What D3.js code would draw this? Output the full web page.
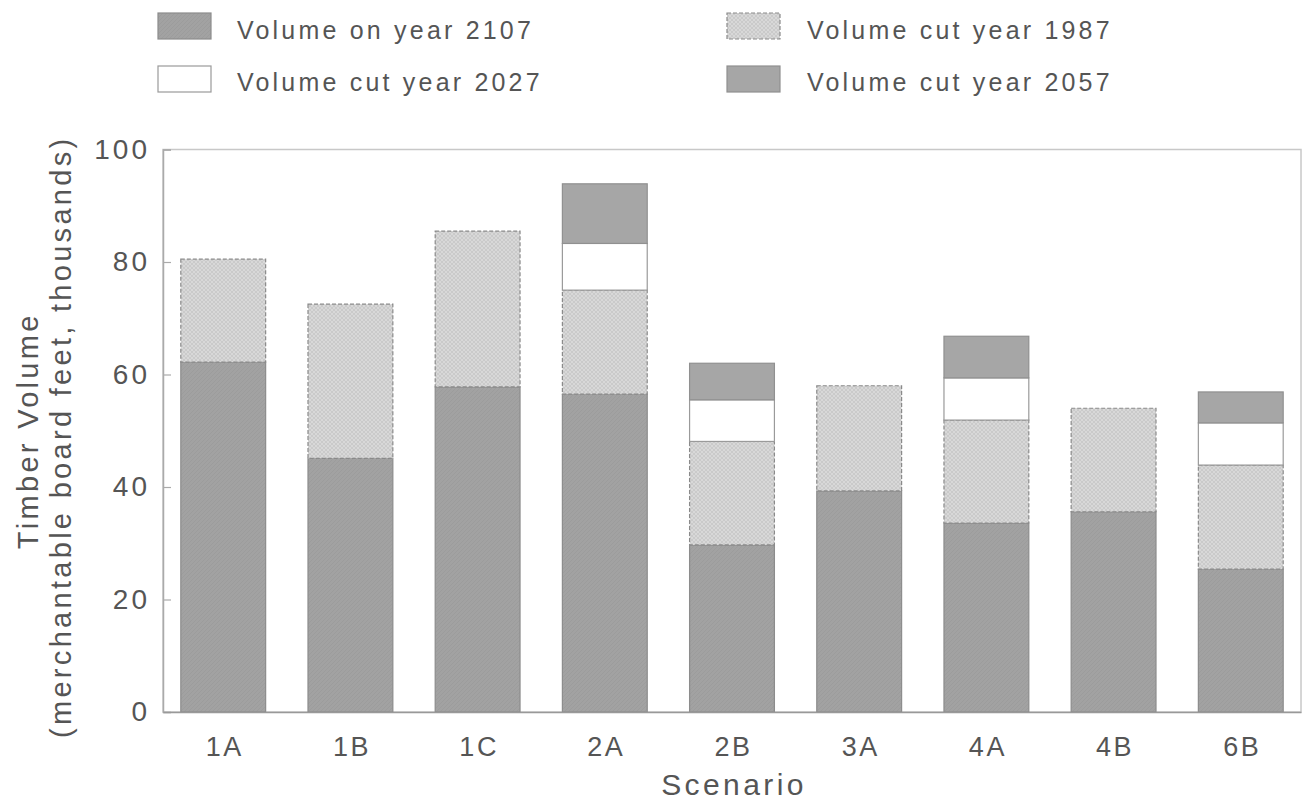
<!DOCTYPE html>
<html>
<head>
<meta charset="utf-8">
<script src="https://cdn.jsdelivr.net/npm/d3@7"></script>
<style>
  html, body { margin: 0; padding: 0; background: #fff; }
  text { font-family: "Liberation Sans", Arial, sans-serif; fill: #555; }
</style>
</head>
<body>
<svg id="chart" width="1304" height="801"></svg>
<script>
// ---- data ----
const categories = ["1A", "1B", "1C", "2A", "2B", "3A", "4A", "4B", "6B"];
const seriesKeys = ["v2107", "v1987", "v2027", "v2057"];
const seriesLabels = ["Volume on year 2107", "Volume cut year 1987", "Volume cut year 2027", "Volume cut year 2057"];
const v2107 = [62.2, 45.1, 57.8, 56.5, 29.7, 39.3, 33.6, 35.6, 25.4];
const v1987 = [18.3, 27.4, 27.7, 18.5, 18.4, 18.7, 18.3, 18.4, 18.5];
const v2027 = [0, 0, 0, 8.3, 7.4, 0, 7.5, 0, 7.5];
const v2057 = [0, 0, 0, 10.6, 6.5, 0, 7.4, 0, 5.5];
const yTicks = [0, 20, 40, 60, 80, 100];
const yTitle1 = "Timber Volume";
const yTitle2 = "(merchantable board feet, thousands)";
const xTitle = "Scenario";

const rows = categories.map((c, i) => ({ cat: c, v2107: v2107[i], v1987: v1987[i], v2027: v2027[i], v2057: v2057[i] }));

const svg = d3.select("#chart");
const defs = svg.append("defs");
const pat = defs.append("pattern").attr("id", "hatch").attr("patternUnits", "userSpaceOnUse")
  .attr("width", 4).attr("height", 4);
pat.append("rect").attr("width", 4).attr("height", 4).attr("fill", "#d8d8d8");
pat.append("path").attr("d", "M0,4 L4,0 M0,0 L4,4").attr("stroke", "#c6c6c6").attr("stroke-width", 0.8);

const pat2 = defs.append("pattern").attr("id", "hatch2").attr("patternUnits", "userSpaceOnUse")
  .attr("width", 4).attr("height", 4);
pat2.append("rect").attr("width", 4).attr("height", 4).attr("fill", "#a2a2a2");
pat2.append("path").attr("d", "M0,4 L4,0").attr("stroke", "#9a9a9a").attr("stroke-width", 0.8);

const fills = { v2107: "url(#hatch2)", v1987: "url(#hatch)", v2027: "#ffffff", v2057: "#a6a6a6" };
const strokes = { v2107: "#8c8c8c", v1987: "#8a8a8a", v2027: "#9a9a9a", v2057: "#909090" };
const dashes = { v2107: null, v1987: "4,2", v2027: null, v2057: null };

const L = 163, R = 1301, T = 149.5, B = 712;

const x = d3.scaleBand().domain(categories).range([L, R]).paddingInner(0.333).paddingOuter(0.14);
const y = d3.scaleLinear().domain([0, 100]).range([B, T]);

// frame
svg.append("rect").attr("x", L).attr("y", T).attr("width", R - L).attr("height", B - T)
  .attr("fill", "none").attr("stroke", "#c8c8c8").attr("stroke-width", 1.5);

// stacked bars
const stacked = d3.stack().keys(seriesKeys)(rows);
stacked.forEach(layer => {
  const key = layer.key;
  svg.append("g").selectAll("rect")
    .data(layer.filter(d => d[1] - d[0] > 0))
    .join("rect")
    .attr("x", d => x(d.data.cat))
    .attr("width", x.bandwidth())
    .attr("y", d => y(d[1]))
    .attr("height", d => y(d[0]) - y(d[1]))
    .attr("fill", fills[key])
    .attr("stroke", strokes[key])
    .attr("stroke-width", 1.2)
    .attr("stroke-dasharray", dashes[key]);
});

// y axis
const yAxis = d3.axisLeft(y).tickValues(yTicks).tickSize(-8).tickPadding(13).tickFormat(d3.format("d"));
const gy = svg.append("g").attr("transform", `translate(${L},0)`).call(yAxis);
gy.select(".domain").attr("stroke", "#aaa").attr("stroke-width", 1.5);
gy.selectAll(".tick line").attr("stroke", "#aaa").attr("stroke-width", 1.2);
gy.selectAll(".tick text").attr("font-size", 28).attr("letter-spacing", 3)
  .style("fill", "#555").attr("font-family", "Liberation Sans, Arial, sans-serif");

// x axis
const xAxis = d3.axisBottom(x).tickSize(0).tickPadding(25);
const gx = svg.append("g").attr("transform", `translate(0,${B})`).call(xAxis);
gx.select(".domain").attr("stroke", "#999").attr("stroke-width", 1.5);
gx.selectAll(".tick text").attr("font-size", 27).attr("letter-spacing", 2.5)
  .attr("dx", 1.5)
  .style("fill", "#555").attr("font-family", "Liberation Sans, Arial, sans-serif");

// axis titles
svg.append("text").attr("x", (L + R) / 2 + 2).attr("y", 795).attr("text-anchor", "middle")
  .attr("font-size", 30).attr("letter-spacing", 3.4).text(xTitle);
svg.append("text").attr("transform", `translate(38,${(T + B) / 2}) rotate(-90)`).attr("text-anchor", "middle")
  .attr("font-size", 29).attr("letter-spacing", 3.3).text(yTitle1);
svg.append("text").attr("transform", `translate(71,${(T + B) / 2 + 6}) rotate(-90)`).attr("text-anchor", "middle")
  .attr("font-size", 29).attr("letter-spacing", 3.3).text(yTitle2);

// legend
const legendPos = [
  { key: "v2107", sx: 158, sy: 13, tx: 237, ty: 39 },
  { key: "v1987", sx: 727, sy: 13, tx: 807, ty: 39 },
  { key: "v2027", sx: 158, sy: 66, tx: 237, ty: 91 },
  { key: "v2057", sx: 727, sy: 66, tx: 807, ty: 91 }
];
const lg = svg.append("g");
legendPos.forEach(p => {
  const i = seriesKeys.indexOf(p.key);
  lg.append("rect").attr("x", p.sx).attr("y", p.sy).attr("width", 53).attr("height", 26)
    .attr("fill", fills[p.key]).attr("stroke", strokes[p.key]).attr("stroke-width", 1.2)
    .attr("stroke-dasharray", dashes[p.key]);
  lg.append("text").attr("x", p.tx).attr("y", p.ty).attr("font-size", 25).attr("letter-spacing", 3.2)
    .text(seriesLabels[i]);
});
</script>
</body>
</html>
